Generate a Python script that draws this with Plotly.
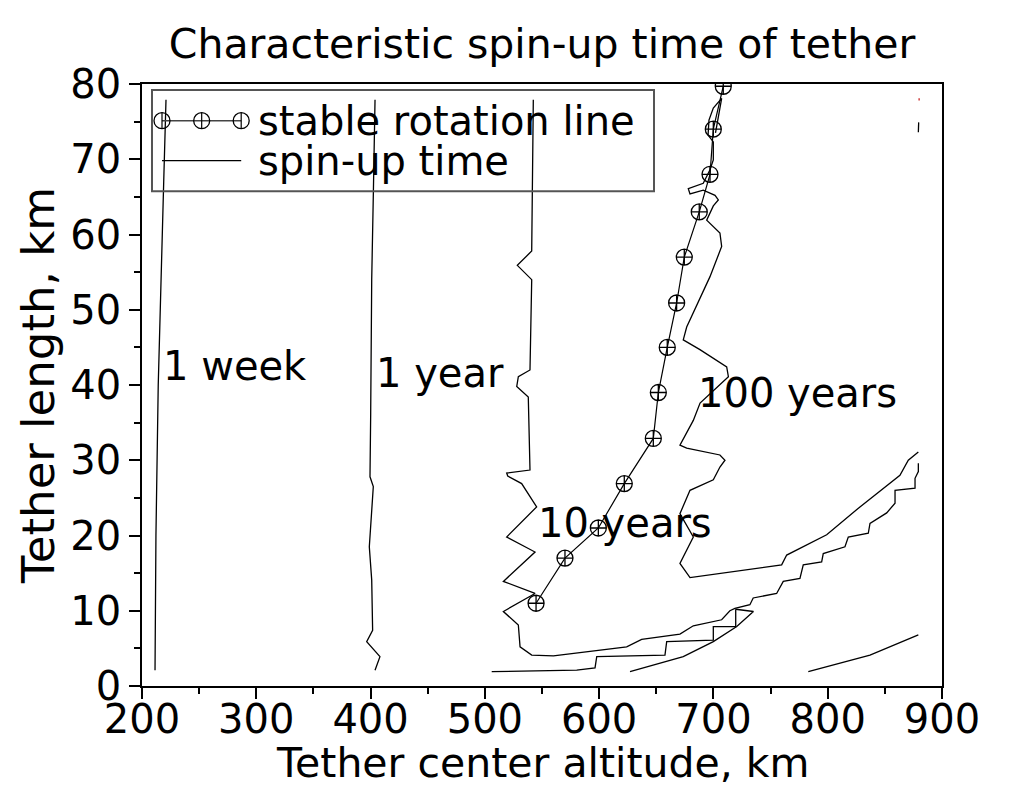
import plotly.graph_objects as go

# spin-up time contour lines (altitude km, tether length km)
week_x = [211.4, 212.2, 214.2, 216.6, 219.0, 221.0]
week_y = [2.1, 20.0, 40.0, 55.0, 67.0, 77.9]

year_x = [403.9, 408.2, 396.6, 401.8, 401.0, 398.9, 402.4, 399.5, 400.1, 401.0, 402.5, 403.9]
year_y = [2.1, 3.9, 5.9, 7.4, 14.1, 18.5, 26.5, 27.8, 36.2, 54.0, 66.0, 77.9]

ten_x = [542.4, 541.0, 541.0, 528.4, 541.0, 539.5, 529.3, 527.9, 538.0, 539.5, 519.1, 520.0,
         532.2, 545.3, 519.1, 543.9, 516.2, 543.9, 516.2, 529.3, 530.8, 541.0, 560.0, 624.1,
         637.2, 670.7, 682.4, 707.2, 714.4, 718.8, 731.9, 734.8, 755.3, 761.1, 775.7, 778.6,
         794.7, 796.1, 815.1, 818.0, 835.5, 837.0, 851.6, 858.9, 858.9, 876.4, 876.4, 879.3,
         879.3]
ten_y = [77.9, 58.4, 57.8, 55.9, 54.0, 42.0, 41.1, 39.8, 38.4, 28.7, 28.3, 27.9,
         26.9, 23.8, 19.8, 17.8, 13.9, 12.3, 9.9, 8.1, 5.2, 4.1, 4.0, 5.2,
         6.2, 6.9, 8.0, 8.8, 10.0, 10.3, 10.8, 11.7, 12.3, 13.9, 14.3, 16.1,
         16.5, 17.6, 18.5, 19.8, 20.3, 21.6, 23.0, 24.3, 26.0, 26.3, 27.6, 28.5,
         29.6]

hundred_x = [701.8, 705.0, 707.2, 699.9, 696.1, 695.3, 699.9, 699.9, 697.0, 691.1, 678.0,
             679.5, 691.1, 701.4, 704.3, 699.9, 694.1, 705.7, 707.2, 697.0, 676.6, 673.6,
             688.2, 711.6, 713.1, 688.3, 682.4, 670.7, 676.6, 705.7, 710.1, 705.7, 699.9,
             679.5, 670.7, 682.4, 670.7, 679.5, 739.3, 759.7, 764.1, 778.6, 799.1, 828.2,
             863.2, 870.5, 879.3]
hundred_y = [73.5, 76.5, 78.1, 76.8, 75.2, 73.2, 72.3, 69.9, 68.6, 66.8, 66.1,
             65.4, 65.9, 65.2, 64.6, 63.8, 61.9, 60.2, 58.4, 54.4, 47.7, 46.0,
             44.7, 42.4, 41.1, 37.6, 35.3, 32.0, 31.6, 30.7, 30.0, 29.1, 27.4,
             26.0, 22.9, 19.8, 16.3, 14.4, 15.6, 16.1, 17.4, 18.5, 20.1, 23.8,
             28.0, 30.0, 31.1]

step_x = [506.0, 580.4, 596.4, 597.9, 657.6, 659.1, 699.9, 699.9, 719.5, 719.5]
step_y = [1.9, 2.1, 2.4, 3.9, 4.1, 5.9, 6.1, 7.9, 7.9, 10.2]

diag_x = [627.0, 673.6, 699.9, 720.4, 735.0, 719.5]
diag_y = [1.9, 3.9, 5.9, 7.9, 9.9, 10.2]

corner_x = [783.0, 804.9, 837.0, 879.3]
corner_y = [1.9, 2.8, 4.1, 6.8]

speck_x = [879.6, 879.3]
speck_y = [74.9, 73.6]

# stable rotation line
stable_x = [544.8, 570.1, 599.3, 622.0, 647.4, 651.8, 659.6, 667.8, 674.5, 687.6, 697.0, 699.9, 708.6]
stable_y = [11.0, 17.0, 21.0, 26.9, 32.9, 39.0, 45.0, 50.9, 57.0, 63.0, 68.0, 74.0, 79.7]

labels = ["1 week", "1 year", "10 years", "100 years"]
legend_names = ["stable rotation line", "spin-up time"]

FONT = "DejaVu Sans"

fig = go.Figure()

for xs, ys in [(week_x, week_y), (year_x, year_y), (ten_x, ten_y), (hundred_x, hundred_y),
               (step_x, step_y), (diag_x, diag_y), (corner_x, corner_y), (speck_x, speck_y)]:
    fig.add_trace(go.Scatter(x=xs, y=ys, mode="lines",
                             line=dict(color="black", width=1.3),
                             showlegend=False, hoverinfo="skip"))

fig.add_trace(go.Scatter(x=[880.0, 880.0], y=[78.1, 77.8], mode="lines",
                         line=dict(color="#d04040", width=1.5),
                         showlegend=False, hoverinfo="skip"))

fig.add_trace(go.Scatter(x=stable_x, y=stable_y, mode="lines+markers",
                         line=dict(color="black", width=1.2),
                         marker=dict(symbol="circle-cross-open", size=16, color="black",
                                     line=dict(width=1.3)),
                         showlegend=False))

# contour labels
for txt, lx, ly in zip(labels, [217.0, 403.0, 545.0, 685.0], [42.5, 41.6, 21.7, 38.9]):
    fig.add_annotation(x=lx, y=ly, text=txt, showarrow=False, xanchor="left",
                       yanchor="middle", font=dict(family=FONT, size=40, color="black"))

# legend box drawn by hand (paper coordinates)
shapes = [dict(type="rect", xref="paper", yref="paper", x0=0.0125, x1=0.64, y0=0.822, y1=0.990,
               line=dict(color="#555555", width=2))]
row1, row2 = 0.939, 0.8726
shapes.append(dict(type="line", xref="paper", yref="paper", x0=0.025, x1=0.124, y0=row1, y1=row1,
                   line=dict(color="#444444", width=1.5)))
shapes.append(dict(type="line", xref="paper", yref="paper", x0=0.025, x1=0.124, y0=row2, y1=row2,
                   line=dict(color="black", width=1.3)))
rx, ry = 8 / 800, 8 / 602
for cx in [0.025, 0.0746, 0.124]:
    shapes.append(dict(type="circle", xref="paper", yref="paper", x0=cx - rx, x1=cx + rx,
                       y0=row1 - ry, y1=row1 + ry, line=dict(color="black", width=1.3)))
    shapes.append(dict(type="line", xref="paper", yref="paper", x0=cx, x1=cx,
                       y0=row1 - ry, y1=row1 + ry, line=dict(color="black", width=1.2)))
fig.update_layout(shapes=shapes)
for name, ry_ in zip(legend_names, [row1, row2]):
    fig.add_annotation(xref="paper", yref="paper", x=0.1425, y=ry_, text=name, showarrow=False,
                       xanchor="left", yanchor="middle",
                       font=dict(family=FONT, size=40, color="black"))

# x axis title placed by hand, just under the tick labels
fig.add_annotation(xref="paper", yref="paper", x=0.5, y=-0.128, text="Tether center altitude, km",
                   showarrow=False, xanchor="center", yanchor="middle",
                   font=dict(family=FONT, size=41, color="black"))

axis_common = dict(showline=True, linecolor="black", linewidth=1.5, mirror=True,
                   ticks="outside", ticklen=11, tickwidth=1.5, tickcolor="black",
                   showgrid=False, zeroline=False,
                   tickfont=dict(family=FONT, size=40, color="black"))

# the page puts the figure 8 px in from the top-left corner
fig.update_layout(
    width=1016, height=804,
    margin=dict(l=134, r=82, t=76, b=126),
    paper_bgcolor="white", plot_bgcolor="white",
    title=dict(text="Characteristic spin-up time of tether", x=0.5, xref="paper",
               y=1 - 36 / 804, yref="container", yanchor="middle",
               font=dict(family=FONT, size=41, color="black")),
    xaxis=dict(range=[200, 900], dtick=100, ticklabelstandoff=-14,
               minor=dict(dtick=50, ticks="outside", ticklen=6, tickwidth=1.5,
                          tickcolor="black", showgrid=False),
               **axis_common),
    yaxis=dict(range=[0, 80], dtick=10,
               minor=dict(dtick=5, ticks="outside", ticklen=6, tickwidth=1.5,
                          tickcolor="black", showgrid=False),
               title=dict(text="Tether length, km", standoff=2,
                          font=dict(family=FONT, size=45, color="black")),
               **axis_common),
)

fig.write_html("out.html")
